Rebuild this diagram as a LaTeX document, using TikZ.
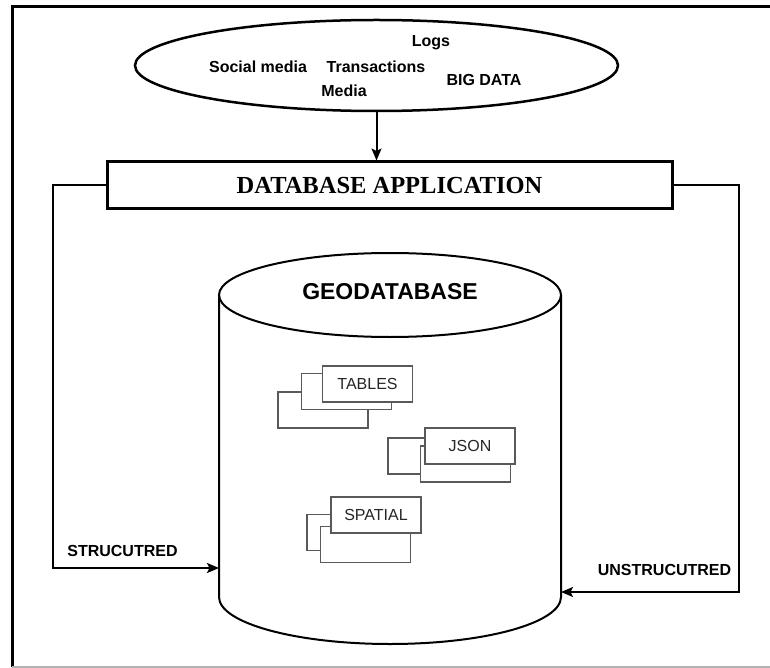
\documentclass[tikz,border=0pt]{standalone}
\usepackage{fontspec}
\setmainfont{Liberation Serif}
\setsansfont{Liberation Sans}
\usetikzlibrary{arrows.meta,shapes.geometric}

\begin{document}
\begin{tikzpicture}[x=1pt,y=1pt,
    doc/.style={draw=black!65, line width=1.3pt, fill=white, minimum width=90pt, minimum height=36pt, inner sep=0pt, font=\fontsize{16}{19}\selectfont\sffamily, text=black!85},
    tag/.style={font=\fontsize{16}{19}\selectfont\sffamily\bfseries, inner sep=0pt},
    link/.style={line width=2pt, -{Stealth[length=12pt,width=10pt,inset=2.5pt]}}]
    \useasboundingbox (0,0) rectangle (770,-668);
    \draw[line width=3pt] (12,-667) -- (12,-7) -- (770,-7);
    \draw[black!30, line width=1.5pt] (12,-667) -- (770,-667);
    % sources
    \node[draw, ellipse, line width=2.5pt, minimum width=483pt, minimum height=91pt] (src) at (376.5,-65.5) {};
    \node[tag] (logs) at (431,-43) {Logs};
    \node[tag] (social) at (258,-67) {Social media};
    \node[tag] (trans) at (376,-67) {Transactions};
    \node[tag] (media) at (344,-91) {Media};
    \node[tag] (big) at (484,-80) {BIG DATA};
    \node[draw, line width=3pt, minimum width=565pt, minimum height=47pt, font=\fontsize{24.5}{29}\selectfont\bfseries] (app) at (389.5,-185.5) {DATABASE APPLICATION};
    \draw[link] (src.south) -- (src.south |- app.north);
    % geodatabase
    \draw[line width=2pt, fill=white] (219,-295) -- (219,-597) arc[start angle=180, end angle=360, x radius=171, y radius=47] -- (561,-295);
    \draw[line width=2pt] (390,-295) ellipse [x radius=171, y radius=42];
    \node[font=\fontsize{23}{27}\selectfont\sffamily\bfseries] (geo) at (390,-292) {GEODATABASE};
    \coordinate (geoL) at (219,-568);
    \coordinate (geoR) at (561,-592);
    \coordinate (lturn) at (53,-568);
    \coordinate (rturn) at (739,-592);
    \draw[link] (app.west) -| (lturn) -- (geoL);
    \draw[link] (app.east) -| (rturn) -- (geoR);
    \node[tag] (str) at (122.5,-551) {STRUCUTRED};
    \node[tag] (unstr) at (664.5,-570) {UNSTRUCUTRED};
    % stores
    \node[doc] (tab3) at (323,-410) {};
    \node[doc] (tab2) at (346.5,-391.5) {};
    \node[doc] (tab1) at (367.5,-384) {TABLES};
    \node[doc] (json3) at (433,-456) {};
    \node[doc] (json2) at (465.5,-464) {};
    \node[doc] (json1) at (470,-446) {JSON};
    \node[doc] (spa3) at (352,-532.5) {};
    \node[doc] (spa2) at (365.5,-544.5) {};
    \node[doc] (spa1) at (376,-515) {SPATIAL};
\end{tikzpicture}
\end{document}
